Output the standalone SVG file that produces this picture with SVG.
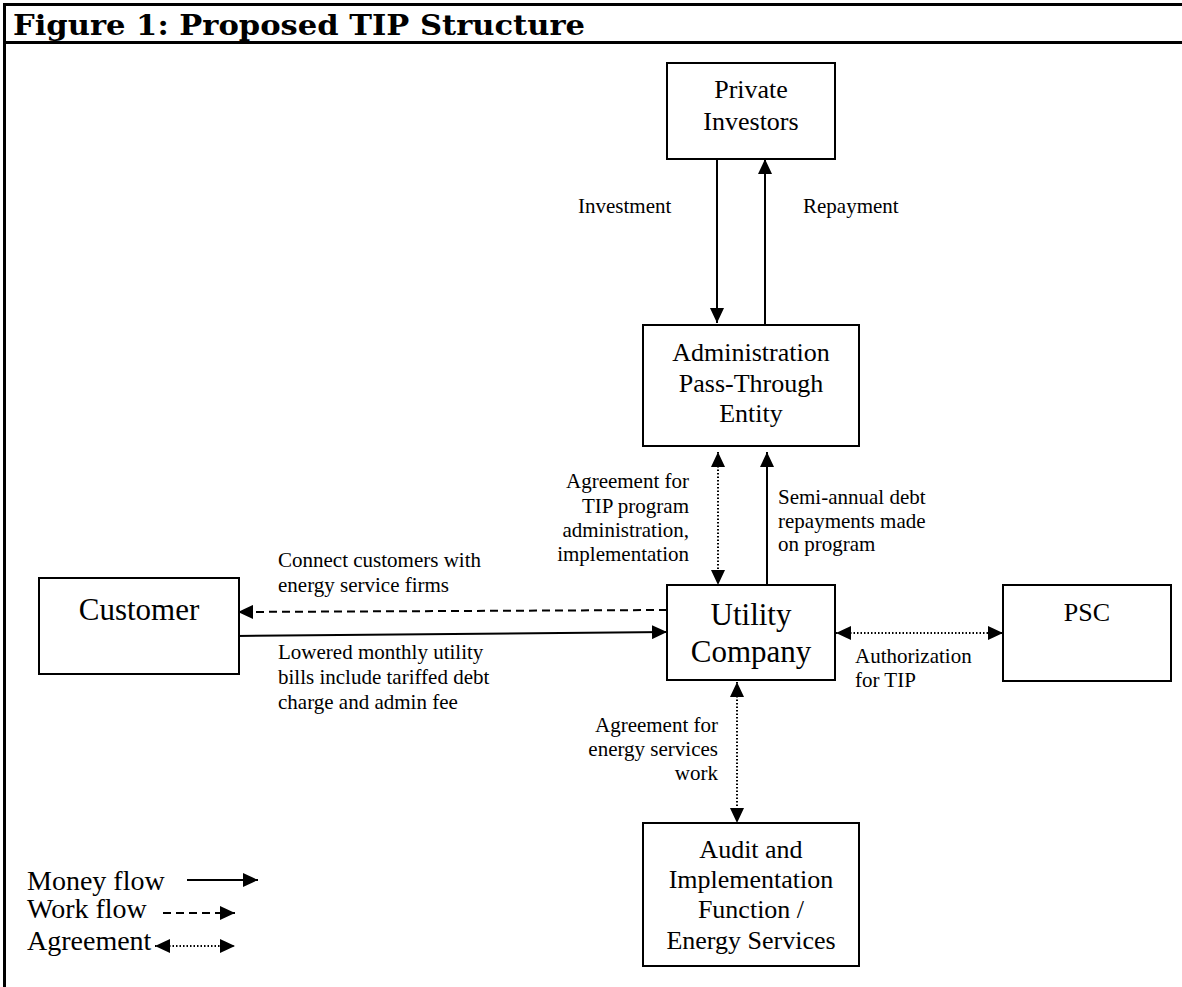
<svg xmlns="http://www.w3.org/2000/svg" width="1182" height="987" viewBox="0 0 1182 987">
<style>
.frame{stroke:#000;stroke-width:3;fill:none}
.box{fill:#fff;stroke:#000;stroke-width:2}
.node{font-family:"Liberation Serif","Times New Roman",serif;font-size:26px;fill:#000;text-anchor:middle}
.big{font-size:31px}
.lbl{font-family:"Liberation Serif","Times New Roman",serif;font-size:21px;fill:#000}
.leg{font-family:"Liberation Serif","Times New Roman",serif;font-size:28px;fill:#000}
.money{stroke:#000;stroke-width:2;fill:none;marker-end:url(#ah)}
.work{stroke:#000;stroke-width:2;fill:none;stroke-dasharray:8 5;marker-end:url(#ah)}
.agree{stroke:#000;stroke-width:2;fill:none;stroke-dasharray:1.5 2;marker-end:url(#ah);marker-start:url(#ah)}
.title{font-family:"DejaVu Serif","Liberation Serif",serif;font-weight:bold;font-size:28px;fill:#000}
</style>
<defs>
<marker id="ah" markerUnits="userSpaceOnUse" markerWidth="15" markerHeight="14" refX="15" refY="7" orient="auto-start-reverse" viewBox="0 0 15 14">
<path d="M0,0 L15,7 L0,14 Z" fill="#000"/>
</marker>
</defs>
<rect width="1182" height="987" fill="#fff"/>
<g id="frame">
<line class="frame" x1="3" y1="4.5" x2="1182" y2="4.5"/>
<line class="frame" x1="3" y1="42.5" x2="1182" y2="42.5"/>
<line class="frame" x1="4.5" y1="3" x2="4.5" y2="987"/>
<text class="title" x="13" y="35" textLength="572" lengthAdjust="spacingAndGlyphs">Figure 1: Proposed TIP Structure</text>
</g>
<g id="connectors">
<line class="money" x1="717" y1="159" x2="717" y2="323"/>
<line class="money" x1="765" y1="325" x2="765" y2="159"/>
<line class="agree" x1="718" y1="452" x2="718" y2="585"/>
<line class="money" x1="767" y1="585" x2="767" y2="452"/>
<line class="work" x1="667" y1="610" x2="238" y2="612"/>
<line class="money" x1="236" y1="636" x2="667" y2="632"/>
<line class="agree" x1="836" y1="633" x2="1003" y2="633"/>
<line class="agree" x1="737" y1="682" x2="737" y2="823"/>
<text class="lbl" x="578" y="213">Investment</text>
<text class="lbl" x="803" y="213">Repayment</text>
<text class="lbl" text-anchor="end"><tspan x="689" y="488">Agreement for</tspan><tspan x="689" y="513">TIP program</tspan><tspan x="689" y="537">administration,</tspan><tspan x="689" y="561">implementation</tspan></text>
<text class="lbl"><tspan x="778" y="504">Semi-annual debt</tspan><tspan x="778" y="528">repayments made</tspan><tspan x="778" y="551">on program</tspan></text>
<text class="lbl"><tspan x="278" y="567">Connect customers with</tspan><tspan x="278" y="592">energy service firms</tspan></text>
<text class="lbl"><tspan x="278" y="659">Lowered monthly utility</tspan><tspan x="278" y="684">bills include tariffed debt</tspan><tspan x="278" y="709">charge and admin fee</tspan></text>
<text class="lbl"><tspan x="855" y="663">Authorization</tspan><tspan x="855" y="687">for TIP</tspan></text>
<text class="lbl" text-anchor="end"><tspan x="718" y="732">Agreement for</tspan><tspan x="718" y="756">energy services</tspan><tspan x="718" y="780">work</tspan></text>
</g>
<g id="private-investors">
<rect class="box" x="667" y="63" width="168" height="96"/>
<text class="node"><tspan x="751" y="98">Private</tspan><tspan x="751" y="130">Investors</tspan></text>
</g>
<g id="admin-entity">
<rect class="box" x="643" y="325" width="216" height="121"/>
<text class="node"><tspan x="751" y="361">Administration</tspan><tspan x="751" y="392">Pass-Through</tspan><tspan x="751" y="422">Entity</tspan></text>
</g>
<g id="customer">
<rect class="box" x="39" y="578" width="200" height="96"/>
<text class="node big" x="139" y="620">Customer</text>
</g>
<g id="utility-company">
<rect class="box" x="667" y="585" width="168" height="95"/>
<text class="node big"><tspan x="751" y="625">Utility</tspan><tspan x="751" y="662">Company</tspan></text>
</g>
<g id="psc">
<rect class="box" x="1003" y="585" width="168" height="96"/>
<text class="node" x="1087" y="621">PSC</text>
</g>
<g id="audit">
<rect class="box" x="643" y="823" width="216" height="143"/>
<text class="node"><tspan x="751" y="858">Audit and</tspan><tspan x="751" y="888">Implementation</tspan><tspan x="751" y="918">Function /</tspan><tspan x="751" y="949">Energy Services</tspan></text>
</g>
<g id="legend">
<text class="leg" x="27" y="890">Money flow</text>
<text class="leg" x="27" y="918">Work flow</text>
<text class="leg" x="27" y="950">Agreement</text>
<line class="money" x1="187" y1="880" x2="258" y2="880"/>
<line class="work" x1="163" y1="913" x2="235" y2="913"/>
<line class="agree" x1="155" y1="946" x2="235" y2="946"/>
</g>
</svg>
